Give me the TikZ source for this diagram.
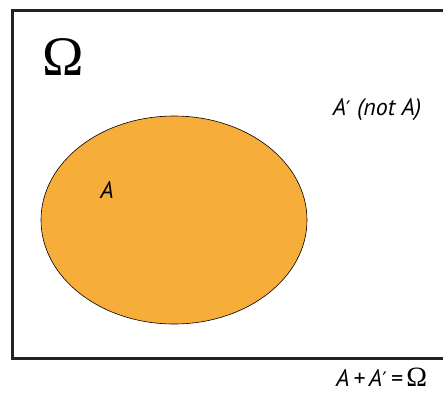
\documentclass[tikz,border=0pt]{standalone}
\usepackage{fontspec}
\setmainfont{PT Sans}
\newfontfamily\omegafont{Liberation Serif}
\newfontfamily\primefont{DejaVu Sans}
\newcommand{\primemark}{{\upshape\primefont\fontsize{20}{22}\selectfont ′}}
\definecolor{setorange}{RGB}{247,173,58}
\definecolor{framegray}{RGB}{35,35,35}
\usetikzlibrary{positioning}

\begin{document}
\begin{tikzpicture}[x=1bp,y=-1bp,
    frameline/.style={draw=framegray, line width=3bp},
    setfill/.style={fill=setorange, draw=black, line width=0.6bp},
    setlabel/.style={font=\fontsize{24}{26}\selectfont\itshape, inner sep=0pt}]
  \useasboundingbox (0,0) rectangle (443,392);
  \clip (0,0) rectangle (443,392);

  % Sample space
  \draw[frameline] (12,10) rectangle (470,358);
  \node[font=\omegafont\fontsize{56}{60}\selectfont, inner sep=0pt] (omega) at (63,57) {Ω};

  % Event A
  \draw[setfill] (174,220) ellipse [x radius=133, y radius=104];
  \node[setlabel] (lblA) at (107,190) {A};
  \node[setlabel] (lblnotA) at (377,110) {A\primemark\ (not A)};

  % Relation
  \node[setlabel, anchor=base west] (sum) at (336,386) {A\,+\,A\primemark\,=\,{\upshape\omegafont\fontsize{28}{30}\selectfont Ω}};
\end{tikzpicture}
\end{document}
